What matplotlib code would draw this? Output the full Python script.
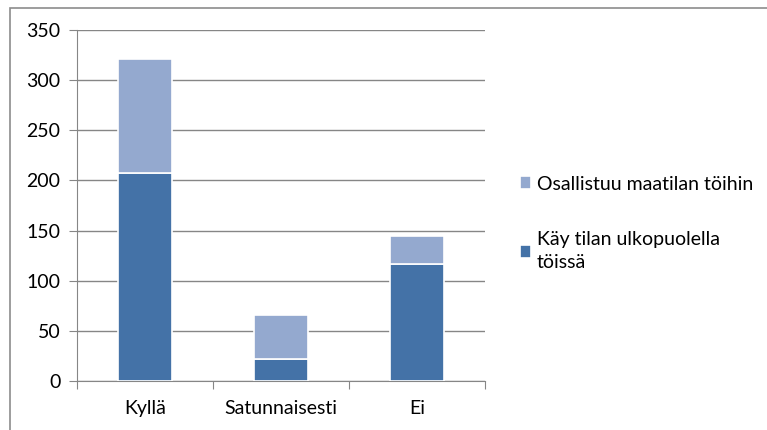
import numpy as np
import matplotlib.pyplot as plt
from matplotlib.patches import Rectangle

categories = ['Kyllä', 'Satunnaisesti', 'Ei']
ulkopuolella = [207, 22, 117]      # Käy tilan ulkopuolella töissä
maatila = [114, 44, 28]            # Osallistuu maatilan töihin
ticks = [0, 50, 100, 150, 200, 250, 300, 350]

plt.rcParams['font.family'] = ['Lato', 'DejaVu Sans']

fig = plt.figure(figsize=(7.67, 4.30), dpi=100)
ax = fig.add_axes([77/767, 1 - 381/430, (485-77)/767, (381-30)/430])

# outer frame of the chart area
fig.patches.append(Rectangle((10/767, -0.1), 1.1, 1 - 8/430 + 0.1, transform=fig.transFigure,
                             fill=False, edgecolor='#8c8c8c', linewidth=1.2))

x = np.arange(len(categories))
dark = '#4472a7'
light = '#94a9cf'
b1 = ax.bar(x, ulkopuolella, width=0.4, color=dark, edgecolor='white', linewidth=1.2, zorder=3,
            label='Käy tilan ulkopuolella\ntöissä')
b2 = ax.bar(x, maatila, bottom=ulkopuolella, width=0.4, color=light, edgecolor='white',
            linewidth=1.2, zorder=3, label='Osallistuu maatilan töihin')

ax.set_xlim(-0.5, len(categories) - 0.5)
ax.set_ylim(0, 350)
ax.set_yticks(ticks)
ax.yaxis.grid(True, color='#868686', linewidth=1)
ax.set_axisbelow(True)
for s in ['top', 'right']:
    ax.spines[s].set_visible(False)
ax.spines['left'].set_color('#868686')
ax.spines['bottom'].set_color('#868686')

ax.set_xticks(np.arange(-0.5, len(categories), 1.0), minor=False)
ax.set_xticklabels([])
ax.tick_params(axis='x', length=6, color='#868686', direction='out')
ax.set_xticks(x, minor=True)
ax.set_xticklabels(categories, minor=True)
ax.tick_params(axis='x', which='minor', length=0, pad=14, labelsize=14)
ax.tick_params(axis='y', length=6, color='#868686', pad=6, labelsize=14)

leg = ax.legend(handles=[b2, b1], loc='upper left', bbox_to_anchor=(502/767, 1 - 158/430),
                bbox_transform=fig.transFigure, frameon=False, fontsize=14,
                handlelength=0.6, handleheight=0.6, handletextpad=0.3, labelspacing=2.0)
for t in leg.get_texts():
    t.set_linespacing(1.4)

fig.savefig('out.png', dpi=100)
